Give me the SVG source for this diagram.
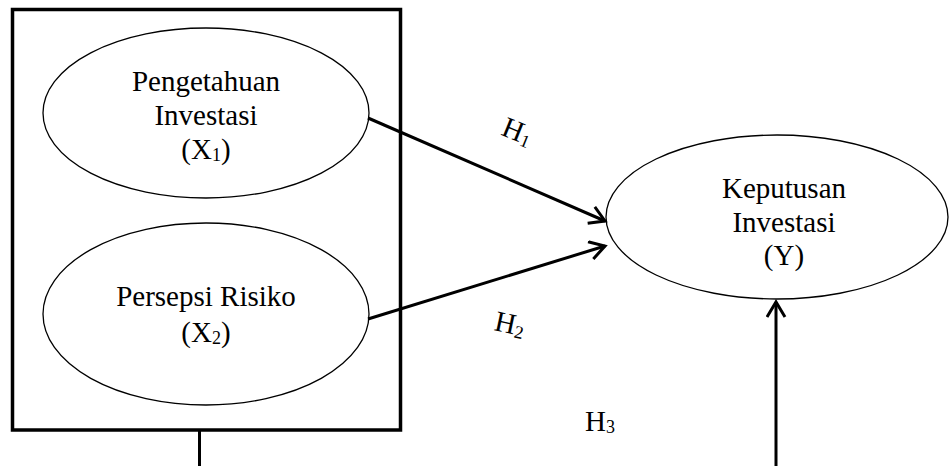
<svg xmlns="http://www.w3.org/2000/svg" width="950" height="466" viewBox="0 0 950 466">
<style>
text{font-family:"Liberation Serif","Times New Roman",serif;font-size:29px;fill:#000;text-anchor:middle}
.n{fill:#fff;stroke:#000;stroke-width:1.3}
.c{fill:none;stroke:#000;stroke-width:3}
.sub{font-size:18px}
</style>
<defs>
<marker id="ah" markerWidth="24" markerHeight="24" refX="20" refY="10" orient="auto" markerUnits="userSpaceOnUse">
<path d="M5,1 L20,10 L5,19" fill="none" stroke="#000" stroke-width="3"/>
</marker>
</defs>
<rect width="950" height="466" fill="#fff"/>
<g id="box">
<rect x="12.5" y="9.5" width="388" height="420.5" fill="none" stroke="#000" stroke-width="3.5"/>
</g>
<g id="x1">
<ellipse class="n" cx="206" cy="113" rx="163" ry="85"/>
<text x="206" y="91">Pengetahuan</text>
<text x="206" y="125">Investasi</text>
<text x="206" y="159">(X<tspan class="sub" dy="2">1</tspan><tspan dy="-2">)</tspan></text>
</g>
<g id="x2">
<ellipse class="n" cx="206" cy="314" rx="163" ry="91"/>
<text x="206" y="306">Persepsi Risiko</text>
<text x="206" y="342">(X<tspan class="sub" dy="2">2</tspan><tspan dy="-2">)</tspan></text>
</g>
<g id="y">
<ellipse class="n" cx="777" cy="217" rx="171" ry="82"/>
<text x="784" y="198">Keputusan</text>
<text x="784" y="232">Investasi</text>
<text x="784" y="265">(Y)</text>
</g>
<g id="connectors">
<line class="c" x1="368" y1="118" x2="605" y2="221" marker-end="url(#ah)"/>
<line class="c" x1="368" y1="319" x2="605" y2="246" marker-end="url(#ah)"/>
<line class="c" x1="776" y1="466" x2="776" y2="302" marker-end="url(#ah)"/>
<line class="c" x1="199.5" y1="430" x2="199.5" y2="466"/>
</g>
<g id="labels">
<text transform="translate(514,140) rotate(22)">H<tspan class="sub" dy="3">1</tspan></text>
<text transform="translate(508,333) rotate(12)">H<tspan class="sub" dy="3">2</tspan></text>
<text x="600" y="431">H<tspan class="sub" dy="2">3</tspan></text>
</g>
</svg>
